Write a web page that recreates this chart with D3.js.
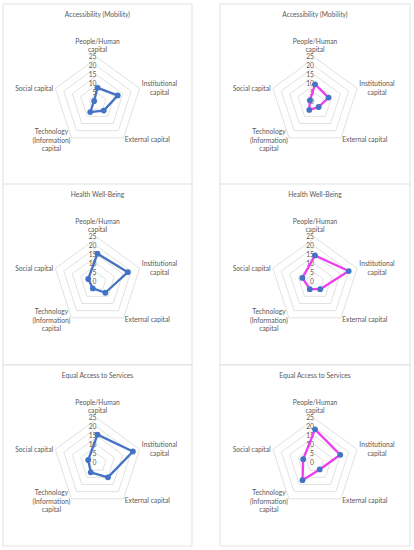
<!DOCTYPE html>
<html>
<head>
<meta charset="utf-8">
<script src="https://cdn.jsdelivr.net/npm/d3@7"></script>
<style>
  html, body { margin: 0; padding: 0; background: #ffffff; }
  svg { display: block; }
  text { font-family: Lato, "Open Sans", sans-serif; fill: #595959; }
</style>
</head>
<body>
<svg id="chart" width="414" height="550"></svg>
<script>
// ---- data ----
const categories = ["People/Human capital", "Institutional capital", "External capital", "Technology (Information) capital", "Social capital"];
const categoryLines = [["People/Human", "capital"], ["Institutional", "capital"], ["External capital"], ["Technology", "(Information)", "capital"], ["Social capital"]];
const tickValues = [0, 5, 10, 15, 20, 25];
const titles = ["Accessibility (Mobility)", "Health Well-Being", "Equal Access to Services"];
const mobilityLeft  = [8, 12, 6, 7, 2];
const mobilityRight = [10, 8, 3.5, 5.5, 3];
const healthLeft    = [16, 18, 7.5, 4.5, 5.5];
const healthRight   = [15, 20, 5, 5, 7.5];
const equalLeft     = [16, 21, 10, 6.5, 5.5];
const equalRight    = [19, 15, 4.5, 12, 7];

const panels = [
  { title: titles[0], values: mobilityLeft,  col: 0, row: 0 },
  { title: titles[0], values: mobilityRight, col: 1, row: 0 },
  { title: titles[1], values: healthLeft,    col: 0, row: 1 },
  { title: titles[1], values: healthRight,   col: 1, row: 1 },
  { title: titles[2], values: equalLeft,     col: 0, row: 2 },
  { title: titles[2], values: equalRight,    col: 1, row: 2 }
];

const colX = [3, 220], colW = [189, 190];
const rowY = [4, 184, 365], rowH = 181;
const svg = d3.select("#chart");
const blue = "#4472C4", magenta = "#F03CF0";
const fs = 6.7;

const r = d3.scaleLinear().domain([0, 25]).range([0, 44.3]);
const angle = d3.scalePoint().domain(d3.range(categories.length)).range([0, 2 * Math.PI * (categories.length - 1) / categories.length]);

panels.forEach(p => {
  const x0 = colX[p.col], y0 = rowY[p.row], w = colW[p.col];
  const g = svg.append("g").attr("transform", `translate(${x0},${y0})`);
  g.append("rect").attr("x", 0).attr("y", 0).attr("width", w).attr("height", rowH)
    .attr("fill", "#fff").attr("stroke", "#d9d9d9").attr("stroke-width", 0.8);
  g.append("text").attr("x", w / 2).attr("y", 11).attr("text-anchor", "middle")
    .attr("dominant-baseline", "middle").attr("font-size", fs).text(p.title);

  const cx = w / 2, cy = 98;
  const c = g.append("g").attr("transform", `translate(${cx},${cy})`);
  const pt = (i, v) => [r(v) * Math.sin(angle(i)), -r(v) * Math.cos(angle(i))];

  // rings
  tickValues.filter(t => t > 0).forEach(t => {
    c.append("polygon")
      .attr("points", categories.map((_, i) => pt(i, t).join(",")).join(" "))
      .attr("fill", "none").attr("stroke", "#d9d9d9").attr("stroke-width", 0.8);
  });
  // tick labels
  tickValues.forEach(t => {
    c.append("text").attr("x", -1).attr("y", -r(t)).attr("text-anchor", "end")
      .attr("dominant-baseline", "middle").attr("font-size", fs).text(t);
  });
  // category labels
  const lh = 8.3;
  categories.forEach((cat, i) => {
    const a = angle(i), s = Math.sin(a), co = Math.cos(a);
    const [vx, vy] = pt(i, 25);
    const lines = categoryLines[i];
    const t = c.append("text").attr("font-size", fs).attr("text-anchor", "middle");
    lines.forEach((ln, k) => t.append("tspan").attr("x", 0).attr("dy", k === 0 ? 0 : lh).text(ln));
    const bw = t.node().getBBox().width;
    const n = lines.length;
    let tx, ty;
    if (Math.abs(s) < 0.1) {
      tx = vx; ty = vy - 4 - (n - 1) * lh - 1.5;
    } else if (co > 0) {
      tx = vx + Math.sign(s) * (bw / 2 + 2); ty = vy - (n - 1) * lh / 2 + 2.2;
    } else {
      tx = vx + Math.sign(s) * (bw / 2 + 1); ty = vy - (n === 1 ? 0 : 8) + 4.5;
    }
    t.attr("transform", `translate(${tx},${ty})`);
  });

  // data
  const line = d3.lineRadial().angle((d, i) => angle(i)).radius(d => r(d)).curve(d3.curveLinearClosed);
  c.append("path").datum(p.values).attr("d", line).attr("fill", "none")
    .attr("stroke", p.col === 0 ? blue : magenta).attr("stroke-width", 2.3).attr("stroke-linejoin", "round");
  c.selectAll("circle.m").data(p.values).join("circle").attr("class", "m")
    .attr("cx", (d, i) => pt(i, d)[0]).attr("cy", (d, i) => pt(i, d)[1])
    .attr("r", 2.9).attr("fill", blue);
});
</script>
</body>
</html>
